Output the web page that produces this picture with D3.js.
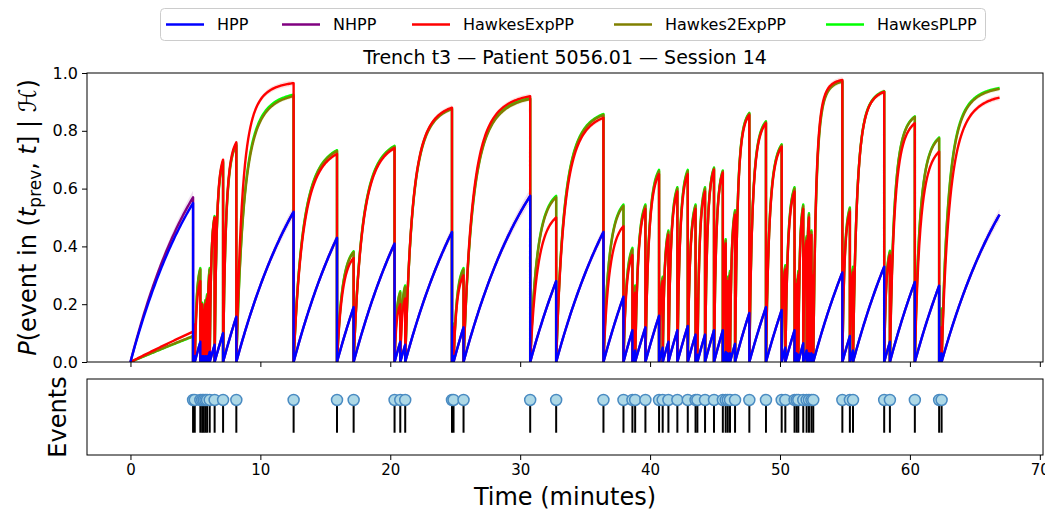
<!DOCTYPE html>
<html><head><meta charset="utf-8">
<script src="https://cdn.jsdelivr.net/npm/d3@7"></script>
<style>body{margin:0;background:#fff} text{font-family:"DejaVu Sans",sans-serif}</style>
</head><body><svg id="c" width="1045" height="514"></svg>
<script>
// ---------- data ----------
const titleText = "Trench t3 \u2014 Patient 5056.01 \u2014 Session 14";
const seriesNames = ["HPP", "NHPP", "HawkesExpPP", "Hawkes2ExpPP", "HawkesPLPP"];
const seriesColors = ["#0000ff", "#800080", "#ff0000", "#808000", "#00ff00"];
const eventTimes = [4.82, 4.95, 5.38, 5.52, 5.64, 5.77, 5.90, 6.10, 6.48, 7.13, 8.15,
  12.56, 15.90, 17.18, 20.33, 20.77, 21.15, 24.75, 24.87, 25.64, 30.77, 32.77, 36.41,
  37.95, 38.64, 38.85, 39.64, 40.69, 40.97, 41.41, 42.10, 42.90, 43.50, 43.64, 44.23,
  44.92, 45.60, 45.82, 45.98, 46.15, 46.54, 47.64, 48.92, 50.13, 50.41, 51.12, 51.28,
  51.41, 51.79, 52.05, 52.23, 52.42, 52.56, 54.80, 55.38, 55.62, 58.02, 58.46, 60.38,
  62.25, 62.44];
const endTime = 66.9;
// value reached at the end of each inter-event interval (last = open interval to endTime)
const hppPeaks = [0.55, 0.02, 0.07, 0.02, 0.02, 0.02, 0.02, 0.035, 0.06, 0.10, 0.157,
  0.52, 0.43, 0.19, 0.41, 0.07, 0.06, 0.45, 0.02, 0.12, 0.575, 0.28, 0.45,
  0.226, 0.11, 0.04, 0.12, 0.16, 0.05, 0.07, 0.11, 0.125, 0.095, 0.025, 0.095,
  0.11, 0.11, 0.035, 0.03, 0.03, 0.063, 0.17, 0.19, 0.18, 0.05, 0.11, 0.03,
  0.025, 0.065, 0.04, 0.03, 0.03, 0.025, 0.31, 0.09, 0.04, 0.33, 0.07, 0.277,
  0.264, 0.03, 0.51];
const nhppPeaks = [0.57, 0.02, 0.07, 0.02, 0.02, 0.02, 0.02, 0.035, 0.06, 0.10, 0.157,
  0.52, 0.43, 0.19, 0.41, 0.07, 0.06, 0.45, 0.02, 0.12, 0.575, 0.28, 0.45,
  0.226, 0.11, 0.04, 0.12, 0.16, 0.05, 0.07, 0.11, 0.125, 0.095, 0.025, 0.095,
  0.11, 0.11, 0.035, 0.03, 0.03, 0.063, 0.17, 0.19, 0.18, 0.05, 0.11, 0.03,
  0.025, 0.065, 0.04, 0.03, 0.03, 0.025, 0.31, 0.09, 0.04, 0.33, 0.07, 0.277,
  0.264, 0.03, 0.51];
const expPeaks = [0.105, 0.13, 0.28, 0.20, 0.18, 0.20, 0.22, 0.30, 0.50, 0.70, 0.76,
  0.965, 0.72, 0.36, 0.74, 0.20, 0.22, 0.88, 0.12, 0.30, 0.92, 0.50, 0.845,
  0.47, 0.37, 0.24, 0.53, 0.65, 0.28, 0.44, 0.59, 0.65, 0.53, 0.22, 0.59,
  0.665, 0.655, 0.41, 0.28, 0.30, 0.51, 0.855, 0.826, 0.745, 0.32, 0.59, 0.27,
  0.30, 0.53, 0.42, 0.50, 0.44, 0.30, 0.976, 0.52, 0.31, 0.935, 0.37, 0.826,
  0.728, 0.12, 0.915];
const twoExpPeaks = [0.09, 0.12, 0.32, 0.20, 0.19, 0.21, 0.23, 0.32, 0.50, 0.69, 0.75,
  0.92, 0.73, 0.38, 0.745, 0.24, 0.26, 0.875, 0.13, 0.32, 0.91, 0.57, 0.855,
  0.54, 0.39, 0.26, 0.54, 0.66, 0.29, 0.45, 0.60, 0.66, 0.54, 0.23, 0.60,
  0.67, 0.66, 0.42, 0.29, 0.31, 0.52, 0.86, 0.83, 0.75, 0.33, 0.60, 0.28,
  0.31, 0.54, 0.43, 0.51, 0.45, 0.31, 0.97, 0.53, 0.32, 0.935, 0.38, 0.848,
  0.774, 0.18, 0.945];
const plPeaks = [0.088, 0.122, 0.325, 0.205, 0.195, 0.215, 0.235, 0.325, 0.505, 0.695, 0.755,
  0.925, 0.733, 0.383, 0.748, 0.245, 0.265, 0.878, 0.133, 0.325, 0.913, 0.575, 0.858,
  0.545, 0.395, 0.265, 0.545, 0.665, 0.295, 0.455, 0.605, 0.665, 0.545, 0.235, 0.605,
  0.673, 0.663, 0.425, 0.295, 0.315, 0.525, 0.862, 0.833, 0.753, 0.335, 0.605, 0.285,
  0.315, 0.545, 0.435, 0.515, 0.455, 0.315, 0.973, 0.535, 0.33, 0.937, 0.385, 0.85,
  0.777, 0.185, 0.948];
const yTicks = [0.0, 0.2, 0.4, 0.6, 0.8, 1.0];
const xTicks = [0, 10, 20, 30, 40, 50, 60, 70];

// ---------- drawing ----------
const svg = d3.select("#c");
const M = {left: 87, right: 1043, top: 73, bottom: 362, eTop: 379, eBottom: 455};
const x = d3.scaleLinear().domain([-3.345, 70.245]).range([M.left, M.right]);
const y = d3.scaleLinear().domain([0, 1]).range([M.bottom, M.top]);
const ye = d3.scaleLinear().domain([-0.68, 1.64]).range([M.eBottom, M.eTop]);

svg.append("defs").append("clipPath").attr("id", "clipTop")
  .append("rect").attr("x", M.left).attr("y", M.top - 2)
  .attr("width", M.right - M.left).attr("height", M.bottom - M.top + 2);

function curvePoints(peaks, hawkes, spread) {
  const starts = [0, ...eventTimes], ends = [...eventTimes, endTime];
  const pts = [];
  starts.forEach((t0, i) => {
    const t1 = ends[i], p = peaks[i], L = -Math.log(1 - p);
    const N = Math.max(8, Math.round((t1 - t0) * 12));
    for (let j = 0; j <= N; j++) {
      const s = j / N;
      let g = s;
      if (hawkes && i > 0) { const k = 2.5; g = (1 - Math.exp(-k * s)) / (1 - Math.exp(-k)); }
      const v = 1 - Math.exp(-L * g);
      pts.push({t: t0 + (t1 - t0) * s, v: v, lo: v * (1 - spread), hi: Math.min(1, v * (1 + spread))});
    }
  });
  return pts;
}

const plot = svg.append("g").attr("clip-path", "url(#clipTop)");
const line = d3.line().x(d => x(d.t)).y(d => y(d.v));
const area = d3.area().x(d => x(d.t)).y0(d => y(d.lo)).y1(d => y(d.hi));

const drawOrder = [
  {peaks: nhppPeaks, color: seriesColors[1], hawkes: false, spread: 0.04},
  {peaks: plPeaks, color: seriesColors[4], hawkes: true, spread: 0.006},
  {peaks: twoExpPeaks, color: seriesColors[3], hawkes: true, spread: 0.008},
  {peaks: expPeaks, color: seriesColors[2], hawkes: true, spread: 0.01},
  {peaks: hppPeaks, color: seriesColors[0], hawkes: false, spread: 0.0}
];
drawOrder.forEach(s => {
  const pts = curvePoints(s.peaks, s.hawkes, s.spread);
  if (s.spread > 0) plot.append("path").attr("d", area(pts)).attr("fill", s.color).attr("fill-opacity", 0.12);
});
drawOrder.forEach(s => {
  const pts = curvePoints(s.peaks, s.hawkes, 0);
  plot.append("path").attr("d", line(pts)).attr("fill", "none")
    .attr("stroke", s.color).attr("stroke-width", 2.4).attr("stroke-linejoin", "round");
});

// top axes
const axL = svg.append("g").attr("transform", `translate(${M.left},0)`)
  .call(d3.axisLeft(y).tickValues(yTicks).tickFormat(d3.format(".1f")).tickSize(5).tickPadding(4));
const axBT = svg.append("g").attr("transform", `translate(0,${M.bottom})`)
  .call(d3.axisBottom(x).tickValues(xTicks).tickFormat("").tickSize(5));
svg.append("rect").attr("x", M.left).attr("y", M.top).attr("width", M.right - M.left)
  .attr("height", M.bottom - M.top).attr("fill", "none").attr("stroke", "#000").attr("stroke-width", 1);

// events panel
const ev = svg.append("g");
ev.selectAll("line.stem").data(eventTimes).join("line").attr("class", "stem")
  .attr("x1", d => x(d)).attr("x2", d => x(d)).attr("y1", ye(0)).attr("y2", ye(1))
  .attr("stroke", "#000").attr("stroke-width", 2);
ev.selectAll("circle").data(eventTimes).join("circle")
  .attr("cx", d => x(d)).attr("cy", ye(1)).attr("r", 5.5)
  .attr("fill", "#add8e6").attr("stroke", "#4a8bc2").attr("stroke-width", 1.5);
const axBB = svg.append("g").attr("transform", `translate(0,${M.eBottom})`)
  .call(d3.axisBottom(x).tickValues(xTicks).tickFormat(d3.format("d")).tickSize(5).tickPadding(4));
svg.append("rect").attr("x", M.left).attr("y", M.eTop).attr("width", M.right - M.left)
  .attr("height", M.eBottom - M.eTop).attr("fill", "none").attr("stroke", "#000").attr("stroke-width", 1);

[axL, axBT, axBB].forEach(a => {
  a.select(".domain").remove();
  a.selectAll("text").attr("font-size", 16).attr("fill", "#000").attr("font-family", "DejaVu Sans");
  a.selectAll("line").attr("stroke", "#000");
});
axBB.selectAll("text").attr("font-size", 15);

// labels
svg.append("text").attr("x", (M.left + M.right) / 2).attr("y", 64).attr("text-anchor", "middle")
  .attr("font-size", 19).text(titleText);
svg.append("text").attr("x", (M.left + M.right) / 2).attr("y", 505).attr("text-anchor", "middle")
  .attr("font-size", 24).text("Time (minutes)");
svg.append("text").attr("transform", `translate(66,${(M.eTop + M.eBottom) / 2}) rotate(-90)`)
  .attr("text-anchor", "middle").attr("font-size", 24).text("Events");
const yl = svg.append("text").attr("transform", `translate(36,${(M.top + M.bottom) / 2}) rotate(-90)`)
  .attr("text-anchor", "middle").attr("font-size", 24);
yl.append("tspan").attr("font-style", "italic").text("P");
yl.append("tspan").text("(event in (");
yl.append("tspan").attr("font-style", "italic").text("t");
yl.append("tspan").attr("font-size", 17).attr("dy", 5).text("prev");
yl.append("tspan").attr("dy", -5).text(", ");
yl.append("tspan").attr("font-style", "italic").text("t");
yl.append("tspan").text("] | ");
yl.append("tspan").attr("font-style", "italic").text("\u210B");
yl.append("tspan").text(")");

// legend
const lg = svg.append("g");
lg.append("rect").attr("x", 160.5).attr("y", 8.5).attr("width", 825).attr("height", 32).attr("rx", 4)
  .attr("fill", "#fff").attr("fill-opacity", 0.8).attr("stroke", "#cccccc");
const legX = [166, 282, 412, 614, 826];
seriesNames.forEach((n, i) => {
  lg.append("line").attr("x1", legX[i]).attr("x2", legX[i] + 38).attr("y1", 24.5).attr("y2", 24.5)
    .attr("stroke", seriesColors[i]).attr("stroke-width", 2.4);
  lg.append("text").attr("x", legX[i] + 51).attr("y", 30).attr("font-size", 16).text(n);
});
</script></body></html>
